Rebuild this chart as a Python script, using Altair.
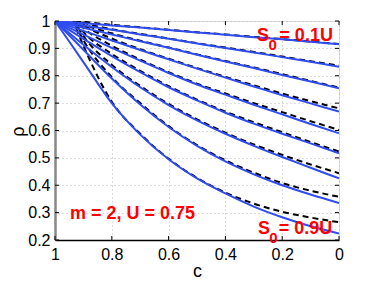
import altair as alt
import pandas as pd

# c values (x axis, reversed)
c_grid = [1.0, 0.9, 0.8, 0.7, 0.6, 0.5, 0.4, 0.3, 0.2, 0.1, 0.0]

# solid blue curves, S0 = 0.1U ... 0.9U
blue_1 = [1.0, 0.992, 0.984, 0.976, 0.967, 0.958, 0.950, 0.941, 0.933, 0.924, 0.915]
blue_2 = [1.0, 0.984, 0.968, 0.951, 0.935, 0.918, 0.901, 0.885, 0.868, 0.851, 0.833]
blue_3 = [1.0, 0.975, 0.951, 0.926, 0.902, 0.877, 0.852, 0.828, 0.803, 0.779, 0.754]
blue_4 = [1.0, 0.964, 0.929, 0.894, 0.860, 0.826, 0.793, 0.761, 0.729, 0.699, 0.669]
blue_5 = [1.0, 0.950, 0.902, 0.855, 0.810, 0.768, 0.731, 0.694, 0.659, 0.624, 0.590]
blue_6 = [1.0, 0.935, 0.872, 0.813, 0.758, 0.710, 0.665, 0.625, 0.588, 0.553, 0.517]
blue_7 = [1.0, 0.913, 0.832, 0.758, 0.693, 0.637, 0.588, 0.544, 0.503, 0.464, 0.425]
blue_8 = [1.0, 0.895, 0.790, 0.695, 0.613, 0.544, 0.487, 0.440, 0.400, 0.366, 0.335]
blue_9 = [1.0, 0.850, 0.700, 0.585, 0.495, 0.425, 0.370, 0.322, 0.283, 0.250, 0.224]

# dashed black approximations
dash_1 = [1.02, 0.998, 0.986, 0.977, 0.968, 0.959, 0.951, 0.942, 0.934, 0.925, 0.916]
dash_2 = [1.04, 0.994, 0.970, 0.953, 0.936, 0.919, 0.903, 0.887, 0.870, 0.853, 0.837]
dash_3 = [1.06, 0.990, 0.955, 0.928, 0.903, 0.878, 0.854, 0.830, 0.806, 0.781, 0.757]
dash_4 = [1.08, 0.985, 0.936, 0.897, 0.862, 0.828, 0.796, 0.765, 0.735, 0.707, 0.681]
dash_5 = [1.10, 0.975, 0.910, 0.859, 0.813, 0.771, 0.735, 0.700, 0.667, 0.634, 0.602]
dash_6 = [1.12, 0.960, 0.880, 0.818, 0.762, 0.713, 0.669, 0.630, 0.594, 0.558, 0.523]
dash_7 = [1.14, 0.945, 0.840, 0.763, 0.697, 0.641, 0.592, 0.549, 0.511, 0.476, 0.444]
dash_8 = [1.16, 0.930, 0.795, 0.700, 0.616, 0.547, 0.491, 0.446, 0.408, 0.380, 0.358]
dash_9 = [1.18, 0.910, 0.705, 0.588, 0.497, 0.427, 0.373, 0.333, 0.303, 0.282, 0.265]

x_ticks = [1.0, 0.8, 0.6, 0.4, 0.2, 0.0]
y_ticks = [0.2, 0.3, 0.4, 0.5, 0.6, 0.7, 0.8, 0.9, 1.0]

# annotations (text, c, rho, size)
ann_text = ["S", "0", "= 0.1U", "S", "0", "= 0.9U", "m = 2, U = 0.75"]
ann_c = [0.289, 0.248, 0.210, 0.285, 0.246, 0.212, 0.947]
ann_rho = [0.927, 0.894, 0.927, 0.222, 0.189, 0.222, 0.277]
ann_size = [18, 15, 18, 18, 15, 18, 18]

blues = [blue_1, blue_2, blue_3, blue_4, blue_5, blue_6, blue_7, blue_8, blue_9]
dashes = [dash_1, dash_2, dash_3, dash_4, dash_5, dash_6, dash_7, dash_8, dash_9]

rows = []
for k, (b, d) in enumerate(zip(blues, dashes), start=1):
    for c, v in zip(c_grid, b):
        rows.append({"c": c, "rho": v, "curve": k, "kind": "exact"})
    for c, v in zip(c_grid, d):
        rows.append({"c": c, "rho": v, "curve": k, "kind": "approx"})
df = pd.DataFrame(rows)
ann = pd.DataFrame({"text": ann_text, "c": ann_c, "rho": ann_rho, "size": ann_size})

W, H = 284, 219
FONT = "Liberation Sans"

xscale = alt.Scale(domain=[0, 1], reverse=True, nice=False, zero=False)
yscale = alt.Scale(domain=[0.2, 1], nice=False, zero=False)

xaxis = alt.Axis(values=x_ticks, format="~g", grid=True, gridDash=[1, 3], gridColor="#b8b8b8",
                 tickSize=0, labelPadding=6, labelFontSize=16, labelFont=FONT, labelColor="black",
                 labelOverlap=False, labelFlush=False,
                 domainColor="black", domainWidth=1.5, title="c", titleFontSize=18,
                 titleFont=FONT, titleFontWeight="normal", titleX=142, titleY=36,
                 titleBaseline="alphabetic")
yaxis = alt.Axis(values=y_ticks, format="~g", grid=True, gridDash=[1, 3], gridColor="#b8b8b8",
                 tickSize=0, labelPadding=5, labelFontSize=16, labelFont=FONT, labelColor="black",
                 labelOverlap=False, labelFlush=False,
                 domainColor="#888888", domainWidth=2.5, title="ρ", titleFontSize=18,
                 titleFont=FONT, titleFontWeight="normal", titleX=-37, titleY=110,
                 titleBaseline="middle", titleAngle=270)

base = alt.Chart(df)

dashed = base.transform_filter(alt.datum.kind == "approx").mark_line(
    color="black", strokeWidth=2, strokeDash=[6, 4], interpolate="monotone", clip=True
).encode(
    x=alt.X("c:Q", scale=xscale, axis=xaxis),
    y=alt.Y("rho:Q", scale=yscale, axis=yaxis),
    detail="curve:N",
)

solid = base.transform_filter(alt.datum.kind == "exact").mark_line(
    color="#2f4cf0", strokeWidth=2, interpolate="monotone", clip=True
).encode(
    x=alt.X("c:Q", axis=xaxis), y=alt.Y("rho:Q", axis=yaxis), detail="curve:N"
)

xt = pd.DataFrame({"t": x_ticks})
yt = pd.DataFrame({"t": y_ticks})
tick_bottom = alt.Chart(xt).mark_rule(color="black", strokeWidth=1).encode(
    x=alt.X("t:Q", axis=xaxis), y=alt.value(H), y2=alt.value(H - 4))
tick_top = alt.Chart(xt).mark_rule(color="black", strokeWidth=1).encode(
    x=alt.X("t:Q", axis=xaxis), y=alt.value(0), y2=alt.value(4))
tick_left = alt.Chart(yt).mark_rule(color="black", strokeWidth=1).encode(
    y=alt.Y("t:Q", axis=yaxis), x=alt.value(0), x2=alt.value(4))
tick_right = alt.Chart(yt).mark_rule(color="black", strokeWidth=1).encode(
    y=alt.Y("t:Q", axis=yaxis), x=alt.value(W), x2=alt.value(W - 4))

labels = alt.Chart(ann).mark_text(
    color="#ff0000", fontWeight="bold", font=FONT, align="left", baseline="alphabetic"
).encode(
    x=alt.X("c:Q", axis=xaxis), y=alt.Y("rho:Q", axis=yaxis), text="text:N",
    size=alt.Size("size:Q", scale=None, legend=None),
)

chart = alt.layer(dashed, solid, tick_bottom, tick_top, tick_left, tick_right, labels).properties(
    width=W, height=H,
    autosize=alt.AutoSizeParams(type="none"),
    padding={"left": 47, "top": 13, "right": 20, "bottom": 40},
).configure_view(stroke="#444444", strokeWidth=1.5).configure(background="white")

chart.save("out.html", embed_options={"renderer": "svg", "actions": False})
